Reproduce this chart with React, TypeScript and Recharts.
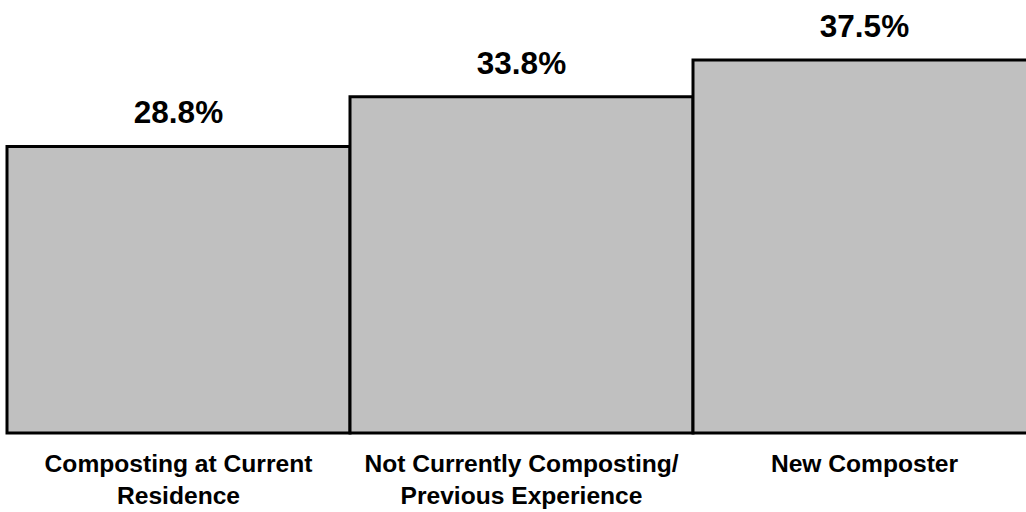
import { BarChart, Bar, XAxis, YAxis, LabelList } from "recharts"

const categories = ["Composting at Current Residence", "Not Currently Composting/ Previous Experience", "New Composter"]
const shares = [28.8, 33.8, 37.5]
// how each category name wraps under its bar
const tickLines = [
  ["Composting at Current", "Residence"],
  ["Not Currently Composting/", "Previous Experience"],
  ["New Composter"],
]

const data = categories.map((name, i) => ({ name, value: shares[i] }))

const FONT = "'Liberation Sans', Arial, Helvetica, sans-serif"

function CategoryTick(props: any) {
  const { x, y, index } = props
  const lines = tickLines[index] || []
  return (
    <text x={x} y={y} textAnchor="middle" fontFamily={FONT} fontWeight="bold" fontSize={24.6} fill="#000">
      {lines.map((line, i) => (
        <tspan key={i} x={x} dy={i === 0 ? 39 : 32}>
          {line}
        </tspan>
      ))}
    </text>
  )
}

function ValueLabel(props: any) {
  const { x, y, width, value } = props
  return (
    <text x={x + width / 2} y={y - 23} textAnchor="middle" fontFamily={FONT} fontWeight="bold" fontSize={31.5} fill="#000">
      {`${Number(value).toFixed(1)}%`}
    </text>
  )
}

export default function App() {
  return (
    <div style={{ position: "absolute", left: 0, top: 0, width: 1026, height: 512, overflow: "hidden", background: "#fff" }}>
      <BarChart width={1036} height={512} data={data} margin={{ top: 35, right: 0, left: 7, bottom: 0 }} barCategoryGap={0}>
        <XAxis
          dataKey="name"
          axisLine={false}
          tickLine={false}
          tickSize={0}
          tickMargin={0}
          height={79}
          interval={0}
          tick={<CategoryTick />}
        />
        <YAxis hide domain={[0, 40]} />
        <Bar dataKey="value" fill="#c0c0c0" stroke="#000" strokeWidth={3} isAnimationActive={false}>
          <LabelList dataKey="value" content={<ValueLabel />} />
        </Bar>
      </BarChart>
    </div>
  )
}
